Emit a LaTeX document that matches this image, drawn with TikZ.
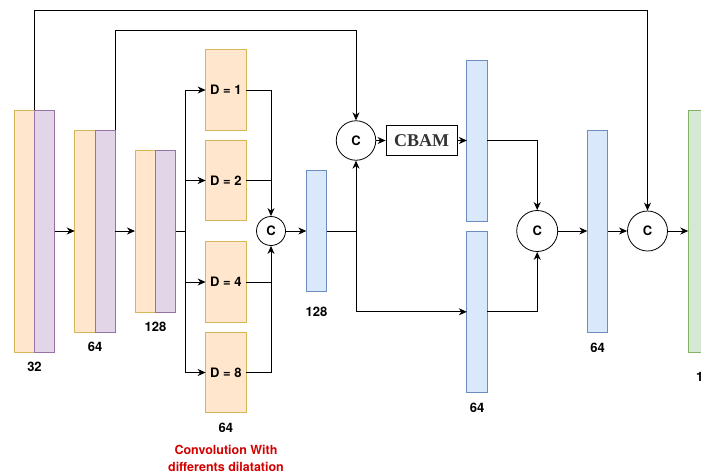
\documentclass[tikz,border=0pt]{standalone}
\usepackage{fontspec}
\setmainfont{TeX Gyre Heros}
\newfontfamily\cbamfont{Liberation Serif}
\usepackage{tikz}
\usetikzlibrary{arrows.meta, calc, positioning}
\usepackage{xcolor}
\definecolor{orfill}{HTML}{FFE6CC}
\definecolor{ordraw}{HTML}{D6B656}
\definecolor{pufill}{HTML}{E1D5E7}
\definecolor{pudraw}{HTML}{9673A6}
\definecolor{blfill}{HTML}{DAE8FC}
\definecolor{bldraw}{HTML}{6C8EBF}
\definecolor{grfill}{HTML}{D5E8D4}
\definecolor{grdraw}{HTML}{82B366}
\definecolor{note}{HTML}{D40000}

\begin{document}
\begin{tikzpicture}[
  x=1pt, y=-1pt,
  blk/.style={rectangle, draw, line width=0.8pt, inner sep=0pt, outer sep=0pt, minimum width=20.3pt},
  orng/.style={blk, fill=orfill, draw=ordraw},
  purp/.style={blk, fill=pufill, draw=pudraw},
  blue/.style={blk, fill=blfill, draw=bldraw},
  dil/.style={orng, minimum width=40.3pt, minimum height=80.5pt, font=\fontsize{13}{15}\selectfont\bfseries},
  cat/.style={circle, draw, line width=0.8pt, inner sep=0pt, font=\fontsize{13}{15}\selectfont\bfseries},
  lbl/.style={font=\fontsize{13}{15}\selectfont\bfseries},
  arrow/.style={-{Stealth[length=8pt, width=7pt, inset=2.5pt]}, line width=1pt},
  link/.style={line width=1pt},
]
\useasboundingbox (0,0) rectangle (701,474);

% Encoder
\node[orng, minimum height=242pt] (b1o) at (24.2, 231) {};
\node[purp, minimum height=242pt, right=0pt of b1o] (b1p) {};
\node[orng, minimum height=202pt] (b2o) at (84.9, 231) {};
\node[purp, minimum height=202pt, right=0pt of b2o] (b2p) {};
\node[orng, minimum height=162pt] (b3o) at (145.2, 231) {};
\node[purp, minimum height=162pt, right=0pt of b3o] (b3p) {};

% Dilated convolutions
\node[dil] (d1) at (225.8, 90) {D = 1};
\node[dil] (d2) at (225.8, 180.5) {D = 2};
\node[dil] (d4) at (225.8, 282) {D = 4};
\node[dil] (d8) at (225.8, 372.5) {D = 8};
\coordinate (split) at (185, 231);

% Concat and decoder
\node[cat, minimum size=29pt] (cat1) at (271, 231) {C};
\node[blue, minimum height=120.7pt] (enc1) at (316.5, 231) {};
\node[cat, minimum size=39.5pt] (cat2) at (356, 140.5) {C};
\node[rectangle, draw, line width=0.9pt, minimum width=71.3pt, minimum height=30.4pt, inner sep=0pt,
  font=\fontsize{18}{20}\cbamfont\bfseries, text=black!80] (cbam) at (421.7, 140.5) {CBAM};
\node[blue, minimum height=161pt] (dec1) at (477, 140.5) {};
\node[blue, minimum height=161.7pt] (dec2) at (477, 311.8) {};
\node[cat, minimum size=41pt] (cat3) at (537.2, 231) {C};
\node[blue, minimum height=202pt] (fuse) at (597.5, 231) {};
\node[cat, minimum size=40pt] (cat4) at (647.5, 231) {C};
\node[blk, fill=grfill, draw=grdraw, minimum width=22pt, minimum height=242pt] (out) at (699.3, 231) {};
\coordinate (jn) at (cat2 |- enc1);

% Labels
\node[lbl] (l32) at (34.5, 367) {32};
\node[lbl] (l64a) at (95, 347) {64};
\node[lbl] (l128a) at (155.5, 327) {128};
\node[lbl] (l64b) at (225.8, 428) {64};
\node[lbl, text=note, align=center, font=\fontsize{12.5}{16.5}\selectfont\bfseries] (notes) at (226, 458.5) {Convolution With\\differents dilatation};
\node[lbl] (l128b) at (316.5, 312) {128};
\node[lbl] (l64c) at (477, 408) {64};
\node[lbl] (l64d) at (597.5, 348) {64};
\node[lbl, anchor=west] (l1) at (692.5, 377) {1};

% Arrows
\draw[arrow] (b1p) -- (b2o);
\draw[arrow] (b2p) -- (b3o);
\draw[link] (b3p.east) -- (split);
\draw[arrow] (split) |- (d1.west);
\draw[arrow] (split) |- (d2.west);
\draw[arrow] (split) |- (d4.west);
\draw[arrow] (split) |- (d8.west);
\draw[arrow] (d1.east) -| (cat1.north);
\draw[link] (d2.east) -- (d2.east -| cat1.center);
\draw[link] (d4.east) -- (d4.east -| cat1.center);
\draw[arrow] (d8.east) -| (cat1.south);
\draw[arrow] (cat1) -- (enc1);
\draw[link] (enc1.east) -- (jn);
\draw[arrow] (jn) -- (cat2.south);
\draw[arrow] (jn) |- (dec2.west);
\draw[arrow] (b2p.north east) -- (b2p.north east |- 0,30) -| (cat2.north);
\draw[arrow] (b1o.north east) -- (b1o.north east |- 0,10) -| (cat4.north);
\draw[arrow] (cat2) -- (cbam);
\draw[arrow] (cbam) -- (dec1);
\draw[arrow] (dec1.east) -| (cat3.north);
\draw[arrow] (dec2.east) -| (cat3.south);
\draw[arrow] (cat3) -- (fuse);
\draw[arrow] (fuse) -- (cat4);
\draw[arrow] (cat4) -- (out);
\end{tikzpicture}
\end{document}
